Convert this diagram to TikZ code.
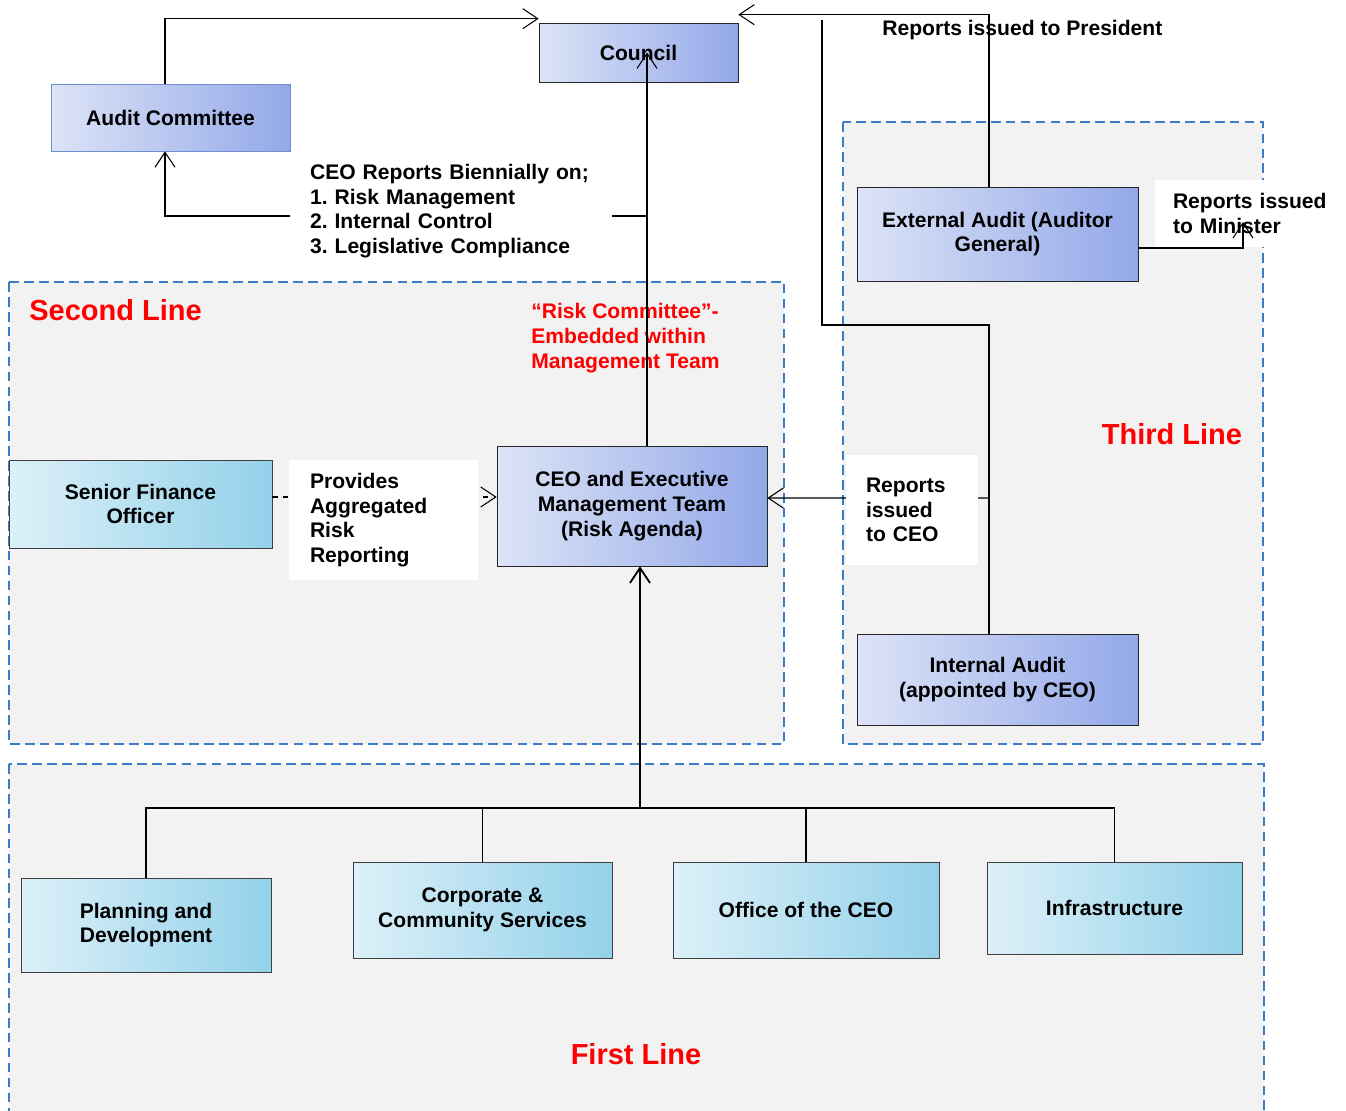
\documentclass[tikz,border=0pt]{standalone}
\usepackage{fontspec}
\setmainfont{Liberation Sans}
\usetikzlibrary{arrows.meta}
\frenchspacing

\definecolor{bluelight}{HTML}{DDE4F7}
\definecolor{bluedark}{HTML}{93A8E8}
\definecolor{cyanlight}{HTML}{DCF0F8}
\definecolor{cyandark}{HTML}{93D1EA}
\definecolor{panelgray}{HTML}{F2F2F2}
\definecolor{panelblue}{HTML}{3B7DC4}
\definecolor{edgeblue}{HTML}{6F8FD0}

\begin{document}
\begin{tikzpicture}[x=0.02cm, y=-0.02cm,
  font=\fontsize{12}{14}\selectfont\bfseries,
  panel/.style={draw=panelblue, fill=panelgray, line width=1.1pt, dash pattern=on 5.5pt off 3pt},
  heading/.style={text=red, font=\fontsize{16.5}{20}\selectfont\bfseries},
  bluebox/.style={draw=black!85, left color=bluelight, right color=bluedark, align=center},
  cyanbox/.style={draw=black!75, left color=cyanlight, right color=cyandark, align=center},
  note/.style={fill=white, align=left},
  link/.style={line width=0.6pt},
  arr/.style={link, -{Straight Barb[length=3mm,width=4mm]}}]
  \useasboundingbox (0,0) rectangle (1346,1110);

  % three lines of defence
  \draw[panel] (9,282) rectangle (784,744);
  \draw[panel] (843,122) rectangle (1263,744);
  \draw[panel] (9,764) rectangle (1264,1116);

  \node[heading, anchor=west, inner sep=0] (second) at (29,310) {Second Line};
  \node[heading] (third) at (1172,434) {Third Line};
  \node[heading] (first) at (636,1054) {First Line};
  \node[anchor=west, align=left, text=red, inner sep=0] (riskcom) at (531,338) {“Risk Committee”-\\Embedded within\\Management Team};

  % boxes
  \node[bluebox, minimum width=3.98cm, minimum height=1.18cm] (council) at (638.5,52.5) {Council};
  \node[bluebox, draw=edgeblue, minimum width=4.78cm, minimum height=1.34cm] (audit) at (170.5,117.5) {Audit Committee};
  \node[bluebox, minimum width=5.62cm, minimum height=1.88cm] (extaudit) at (997.5,234) {External Audit (Auditor\\General)};
  \node[bluebox, minimum width=5.62cm, minimum height=1.82cm] (intaudit) at (997.5,679.5) {Internal Audit\\(appointed by CEO)};
  \node[bluebox, minimum width=5.4cm, minimum height=2.4cm] (ceo) at (632,506) {CEO and Executive\\Management Team\\(Risk Agenda)};
  \node[cyanbox, minimum width=5.26cm, minimum height=1.76cm] (sfo) at (140.5,504) {Senior Finance\\Officer};
  \node[cyanbox, minimum width=5.0cm, minimum height=1.88cm] (plan) at (146,925) {Planning and\\Development};
  \node[cyanbox, minimum width=5.18cm, minimum height=1.92cm] (corp) at (482.5,910) {Corporate \&\\Community Services};
  \node[cyanbox, minimum width=5.32cm, minimum height=1.92cm] (office) at (806,910) {Office of the CEO};
  \node[cyanbox, minimum width=5.1cm, minimum height=1.84cm] (infra) at (1114.5,908) {Infrastructure};

  \node[anchor=west, inner sep=0] (president) at (882,30) {Reports issued to President};
  \node[note, text width=3.1cm, inner xsep=0.36cm, minimum height=1.34cm] (minister) at (1250.5,213.5) {Reports issued\\to Minister};

  % connectors
  \coordinate (spine) at (647,216);
  \coordinate (iaturn) at (822,325);
  \coordinate (iatop) at (822,20);
  \coordinate (mintip) at (1243,222);
  \coordinate (bus) at (640,808);

  \draw[arr] ([xshift=-0.11cm]audit.north) |- ([yshift=0.08cm]council.north west);
  \draw[arr] (ceo.north -| spine) -- (council.center -| spine);
  \draw[arr] (spine) -| ([xshift=-0.11cm]audit.south);
  \draw[arr] ([xshift=-0.17cm]extaudit.north) |- ([yshift=0.16cm]council.north east);
  \draw[link] ([xshift=-0.17cm]intaudit.north) |- (iaturn) -- (iatop);
  \draw[arr] ([xshift=-0.17cm]intaudit.north |- ceo.east) ++(0,-8) -- ([yshift=0.16cm]ceo.east);
  \draw[arr] ([yshift=-0.28cm]extaudit.east) -| (mintip);
  \draw[arr, dashed] ([yshift=0.14cm]sfo.east) -- ([yshift=0.14cm]sfo.east -| ceo.west);
  \foreach \b in {plan,corp,office,infra}
    \draw[link] (\b.north) |- (bus);
  \draw[arr, line width=1pt] (bus) -- (ceo.south -| bus);

  % labels over the connectors
  \node[note, text width=5.64cm, inner xsep=0.4cm, minimum height=2.04cm] (biennial) at (451,211) {CEO Reports Biennially on;\\1. Risk Management\\2. Internal Control\\3. Legislative Compliance};
  \node[note, text width=2.94cm, inner xsep=0.42cm, minimum height=2.4cm] (aggregated) at (383.5,520) {Provides\\Aggregated\\Risk\\Reporting};
  \node[note, text width=1.84cm, inner xsep=0.4cm, minimum height=2.2cm] (toceo) at (912,510) {Reports\\issued\\to CEO};
\end{tikzpicture}
\end{document}
